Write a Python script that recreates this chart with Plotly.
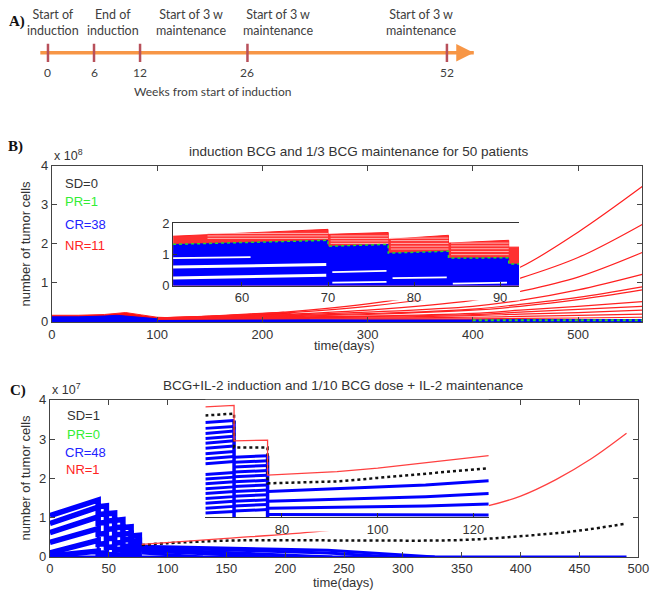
import plotly.graph_objects as go

# ---------- panel A : treatment schedule (weeks) ----------
schedule_weeks = [0, 6, 12, 26, 52]
schedule_events = ["Start of<br>induction", "End of<br>induction",
                   "Start of 3 w<br>maintenance", "Start of 3 w<br>maintenance",
                   "Start of 3 w<br>maintenance"]
timeline_span = [-1, 55.5]

# ---------- panel B : main axes (x 1e8 tumor cells) ----------
b_red_band_days = [0, 25, 50, 62, 70, 85, 100, 110, 150, 190, 220, 245]
b_red_band_top = [0.17, 0.17, 0.19, 0.22, 0.24, 0.18, 0.12, 0.11, 0.15, 0.21, 0.25, 0.1]
b_blue_days = [0, 25, 50, 62, 70, 85, 100, 110, 150, 200, 300, 400, 500, 561]
b_blue_top = [0.13, 0.13, 0.15, 0.17, 0.15, 0.11, 0.08, 0.07, 0.07, 0.07, 0.06, 0.06, 0.06, 0.06]
b_nr_days = [100, 200, 300, 400, 445, 500, 561]
b_nr_curves = [
    [0.10, 0.21, 0.46, 0.95, 1.40, 2.30, 3.47],
    [0.10, 0.20, 0.40, 0.78, 1.12, 1.65, 2.50],
    [0.10, 0.17, 0.30, 0.55, 0.78, 1.15, 1.78],
    [0.10, 0.15, 0.25, 0.40, 0.55, 0.82, 1.22],
    [0.10, 0.14, 0.21, 0.33, 0.45, 0.63, 0.90],
    [0.10, 0.13, 0.19, 0.30, 0.40, 0.57, 0.82],
    [0.09, 0.12, 0.15, 0.22, 0.30, 0.40, 0.52],
    [0.09, 0.11, 0.14, 0.19, 0.25, 0.32, 0.40],
    [0.08, 0.10, 0.12, 0.16, 0.20, 0.24, 0.30],
    [0.08, 0.09, 0.10, 0.12, 0.14, 0.17, 0.20],
    [0.07, 0.08, 0.08, 0.08, 0.09, 0.10, 0.12],
]
b_pr_days = [400, 561]
b_pr_values = [0.04, 0.04]

# ---------- panel B : inset (x 1e7 tumor cells) ----------
bi_days = [52, 70, 70, 77, 77, 84, 84, 91, 91, 92.2]
bi_red_top = [1.59, 1.81, 1.65, 1.71, 1.49, 1.62, 1.37, 1.46, 1.24, 1.24]
bi_blue_top = [1.33, 1.46, 1.27, 1.33, 1.05, 1.11, 0.89, 0.90, 0.70, 0.70]
bi_gap_start = [52, 52, 52, 70.5, 70.5, 77.5, 84.5]
bi_gap_end = [61, 69.8, 69.8, 76.8, 76.8, 83.8, 90.8]
bi_gap_from = [0.89, 0.60, 0.25, 0.44, 0.10, 0.25, 0.07]
bi_gap_to = [0.92, 0.68, 0.34, 0.48, 0.13, 0.27, 0.10]
# thin white partings between the red NR trajectories, one row per dosing interval
bi_stripe_days = [[56, 70], [70.3, 77], [77.3, 84], [84.3, 91]]
bi_stripe_levels = [
    [1.52, 1.60, 1.68],
    [1.36, 1.44, 1.52, 1.60],
    [1.18, 1.27, 1.36, 1.45, 1.53],
    [1.00, 1.10, 1.19, 1.28, 1.37],
]

# ---------- panel C : main axes (x 1e7 tumor cells) ----------
c_step_days = [0, 41, 41, 48, 48, 55, 55, 62, 62, 69, 69, 76, 76, 78]
c_bands = [
    [1.05, 1.45, 1.28, 1.30, 1.10, 1.12, 0.93, 0.95, 0.75, 0.77, 0.53, 0.55, 0.30, 0.30],
    [0.85, 1.27, 1.08, 1.10, 0.91, 0.93, 0.74, 0.76, 0.58, 0.60, 0.40, 0.42, 0.25, 0.25],
    [0.62, 1.02, 0.86, 0.88, 0.70, 0.72, 0.56, 0.58, 0.43, 0.45, 0.28, 0.30, 0.20, 0.20],
    [0.37, 0.72, 0.58, 0.60, 0.46, 0.48, 0.35, 0.37, 0.26, 0.28, 0.18, 0.20, 0.15, 0.15],
    [0.10, 0.42, 0.32, 0.34, 0.24, 0.26, 0.18, 0.20, 0.13, 0.15, 0.08, 0.10, 0.08, 0.08],
    [0.02, 0.15, 0.09, 0.10, 0.06, 0.07, 0.04, 0.05, 0.03, 0.03, 0.02, 0.02, 0.01, 0.01],
]
c_dose_days = [41, 48, 55, 62, 69, 76]
c_dose_peaks = [1.45, 1.30, 1.12, 0.95, 0.77, 0.55]
c_nr_early = [1.08, 1.48, 1.31, 1.33, 1.13, 1.15, 0.96, 0.98, 0.78, 0.80, 0.56, 0.58, 0.33, 0.32]
c_nr_days = [78, 150, 229, 300, 372, 400, 430, 460, 490]
c_nr_values = [0.32, 0.47, 0.65, 0.90, 1.30, 1.55, 1.97, 2.50, 3.15]
c_sd_days = [78, 100, 160, 250, 350, 410, 450, 490]
c_sd_values = [0.30, 0.35, 0.42, 0.42, 0.43, 0.55, 0.67, 0.85]
c_cr_tail_days = [
    [78, 236, 327],
    [78, 236, 293],
    [78, 200, 240],
    [78, 160, 190],
    [78, 130],
    [0, 490],
]
c_cr_tail_values = [
    [0.27, 0.17, 0.0],
    [0.24, 0.10, 0.0],
    [0.20, 0.05, 0.0],
    [0.15, 0.03, 0.0],
    [0.10, 0.0],
    [0.0, 0.0],
]

# ---------- panel C : inset ----------
ci_days = [64, 70, 70, 77, 77, 91.5, 100, 110, 123.2]
ci_red = [2.82, 2.86, 1.95, 1.97, 1.07, 1.16, 1.25, 1.38, 1.57]
ci_sd = [2.60, 2.65, 1.78, 1.78, 0.86, 0.91, 1.00, 1.10, 1.25]
ci_seg1_from = [2.42, 2.27, 2.14, 2.01, 1.89, 1.76, 1.62, 1.49, 1.36,
                1.09, 0.97, 0.85, 0.72, 0.60, 0.47, 0.35, 0.22, 0.10]
ci_seg1_to = [2.47, 2.32, 2.20, 2.07, 1.95, 1.82, 1.68, 1.55, 1.42,
              1.14, 1.02, 0.90, 0.77, 0.65, 0.52, 0.40, 0.27, 0.14]
ci_seg2_from = [1.53, 1.40, 1.28, 1.15, 1.03, 0.90, 0.78, 0.65, 0.53, 0.40, 0.28, 0.15]
ci_seg2_to = [1.57, 1.44, 1.32, 1.19, 1.07, 0.94, 0.82, 0.69, 0.57, 0.44, 0.32, 0.19]
ci_seg3_days = [77, 91.5, 110, 123.2]
ci_seg3_lines = [
    [0.65, 0.72, 0.82, 0.93],
    [0.40, 0.45, 0.52, 0.60],
    [0.22, 0.24, 0.28, 0.33],
    [0.06, 0.06, 0.05, 0.05],
]
ci_dose_days = [70, 77]
ci_dose_peaks = [2.47, 1.57]

W, H = 662, 599
BLUE, RED, GREEN = "#0000ff", "#ff2020", "#22dd22"
AX_FONT = dict(family="Liberation Sans, Arial", size=13, color="#333333")
A_FONT = "Lato, Roboto, sans-serif"

# panel A axes: 7.85 px per week, week 0 at x=45 px; 12 px per unit, arrow at y=47 px
A_X0, A_XS, A_Y0, A_YS = 45, 7.85, 47, 12


def px(x):
    return x / W


def py(y):
    return 1 - y / H


def wk(xpix):
    return (xpix - A_X0) / A_XS


def ay_(ypix):
    return (A_Y0 - ypix) / A_YS


fig = go.Figure()


def add(trace, n):
    ax = "" if n == 1 else str(n)
    trace.update(xaxis="x" + ax, yaxis="y" + ax, showlegend=False, hoverinfo="skip")
    fig.add_trace(trace)


# ---- A ----
add(go.Scatter(x=timeline_span, y=[0, 0], mode="lines",
               line=dict(color="#f79646", width=3.5)), 1)
add(go.Scatter(x=schedule_weeks, y=[0] * len(schedule_weeks), mode="markers",
               marker=dict(symbol="line-ns", size=13, line=dict(color="#b8505a", width=2.5))), 1)

# ---- B main ----
add(go.Scatter(x=b_red_band_days, y=[v * 1e8 for v in b_red_band_top], mode="lines",
               fill="tozeroy", fillcolor="#ff1010", line=dict(color=RED, width=1)), 2)
add(go.Scatter(x=b_blue_days, y=[v * 1e8 for v in b_blue_top], mode="lines",
               fill="tozeroy", fillcolor=BLUE, line=dict(color=BLUE, width=1)), 2)
for curve in b_nr_curves:
    add(go.Scatter(x=b_nr_days, y=[v * 1e8 for v in curve], mode="lines",
                   line=dict(color=RED, width=1.2, shape="spline")), 2)
add(go.Scatter(x=b_pr_days, y=[v * 1e8 for v in b_pr_values], mode="lines",
               line=dict(color=GREEN, width=2, dash="dot")), 2)
# cover behind the inset
add(go.Scatter(x=[None], y=[None]), 3)

# ---- B inset ----
add(go.Scatter(x=bi_days, y=bi_red_top, mode="lines", fill="tozeroy",
               fillcolor="#ff3030", line=dict(color=RED, width=1)), 4)
stx, sty = [], []
for span, levels in zip(bi_stripe_days, bi_stripe_levels):
    for lv in levels:
        stx += [span[0], span[1], None]
        sty += [lv, lv, None]
add(go.Scatter(x=stx, y=sty, mode="lines", line=dict(color="#ffd0d0", width=0.8)), 4)
add(go.Scatter(x=bi_days, y=bi_blue_top, mode="lines", fill="tozeroy",
               fillcolor=BLUE, line=dict(color=BLUE, width=0.5)), 4)
add(go.Scatter(x=bi_days, y=bi_blue_top, mode="lines",
               line=dict(color=GREEN, width=1.5, dash="dot")), 4)
for i in range(len(bi_gap_start)):
    add(go.Scatter(x=[bi_gap_start[i], bi_gap_end[i]], y=[bi_gap_from[i], bi_gap_to[i]],
                   mode="lines", line=dict(color="white", width=3 if i in (1, 2) else 1.8)), 4)

# ---- C main ----
add(go.Scatter(x=c_step_days, y=[v * 1e7 for v in c_nr_early], mode="lines",
               line=dict(color=RED, width=1.5)), 5)
for band in c_bands:
    add(go.Scatter(x=c_step_days, y=[v * 1e7 for v in band], mode="lines",
                   line=dict(color=BLUE, width=5.5)), 5)
dx, dy = [], []
for d, p in zip(c_dose_days, c_dose_peaks):
    dx += [d, d, None]
    dy += [0, p * 1e7, None]
add(go.Scatter(x=dx, y=dy, mode="lines", line=dict(color=BLUE, width=3)), 5)
for days, vals in zip(c_cr_tail_days, c_cr_tail_values):
    add(go.Scatter(x=days, y=[v * 1e7 for v in vals], mode="lines",
                   line=dict(color=BLUE, width=3)), 5)
add(go.Scatter(x=c_sd_days, y=[v * 1e7 for v in c_sd_values], mode="lines",
               line=dict(color="#111111", width=2.5, dash="dot", shape="spline")), 5)
add(go.Scatter(x=c_nr_days, y=[v * 1e7 for v in c_nr_values], mode="lines",
               line=dict(color="#ff4040", width=1.3, shape="spline")), 5)
add(go.Scatter(x=[None], y=[None]), 6)

# ---- C inset ----
sx, sy = [], []
for a, b in zip(ci_seg1_from, ci_seg1_to):
    sx += [64, 70, None]
    sy += [a, b, None]
for a, b in zip(ci_seg2_from, ci_seg2_to):
    sx += [70, 77, None]
    sy += [a, b, None]
add(go.Scatter(x=sx, y=sy, mode="lines", line=dict(color=BLUE, width=3)), 7)
for line in ci_seg3_lines:
    add(go.Scatter(x=ci_seg3_days, y=line, mode="lines", line=dict(color=BLUE, width=3)), 7)
vx, vy = [], []
for d, p in zip(ci_dose_days, ci_dose_peaks):
    vx += [d, d, None]
    vy += [0, p, None]
add(go.Scatter(x=vx, y=vy, mode="lines", line=dict(color=BLUE, width=3.5)), 7)
add(go.Scatter(x=ci_days, y=ci_sd, mode="lines",
               line=dict(color="#111111", width=2.5, dash="dot")), 7)
add(go.Scatter(x=ci_days, y=ci_red, mode="lines", line=dict(color="#ff4040", width=1.3)), 7)


# ---- axes ----
def main_axes(xd, yd, xr, yr, xticks, yticks):
    common = dict(showline=True, linecolor="#444444", linewidth=1, mirror="ticks",
                  ticks="inside", ticklen=5, tickcolor="#444444", showgrid=False,
                  zeroline=False, tickfont=AX_FONT)
    x = dict(common, domain=xd, range=xr, tickvals=xticks)
    y = dict(common, domain=yd, range=yr, tickvals=[t * (yr[1] / 4) for t in yticks],
             ticktext=[str(t) for t in yticks])
    return x, y


hidden = dict(visible=False, showgrid=False, zeroline=False)
xb, yb = main_axes([px(49), px(653)], [py(323), py(163)], [0, 561], [0, 4e8],
                   [0, 100, 200, 300, 400, 500], [0, 1, 2, 3, 4])
xc, yc = main_axes([px(47), px(649)], [py(564), py(403)], [0, 500], [0, 4e7],
                   [0, 50, 100, 150, 200, 250, 300, 350, 400, 450, 500], [0, 1, 2, 3, 4])

inset_common = dict(showline=True, linecolor="#333333", linewidth=1, ticks="inside",
                    ticklen=4, tickcolor="#333333", showgrid=False, zeroline=False,
                    tickfont=AX_FONT)

fig.update_layout(
    width=W, height=H, margin=dict(l=0, r=0, t=0, b=0),
    paper_bgcolor="white", plot_bgcolor="white",
    xaxis=dict(hidden, domain=[0, 1], range=[wk(0), wk(W)]),
    yaxis=dict(hidden, domain=[py(100), 1], range=[ay_(100), ay_(0)]),
    xaxis2=dict(xb, anchor="y2"), yaxis2=dict(yb, anchor="x2"),
    xaxis3=dict(hidden, domain=[px(173), px(528)], anchor="y3"),
    yaxis3=dict(hidden, domain=[py(301), py(222)], anchor="x3"),
    xaxis4=dict(inset_common, domain=[px(173), px(527)], range=[52, 92.2], anchor="y4",
                mirror=True, tickvals=[60, 70, 80, 90]),
    yaxis4=dict(inset_common, domain=[py(286), py(222)], range=[0, 2], anchor="x4",
                tickvals=[0, 1, 2]),
    xaxis5=dict(xc, anchor="y5"), yaxis5=dict(yc, anchor="x5"),
    xaxis6=dict(hidden, domain=[px(206), px(496)], anchor="y6"),
    yaxis6=dict(hidden, domain=[py(538), py(403)], anchor="x6"),
    xaxis7=dict(inset_common, domain=[px(206), px(496)], range=[64, 123.2], anchor="y7",
                tickvals=[80, 100, 120]),
    yaxis7=dict(hidden, domain=[py(523), py(403)], range=[0, 3], anchor="x7"),
)

ann = []


def text(x, y, s, size=13, color="#333333", family="Liberation Sans, Arial", xanchor="center",
         angle=0, bold=False, align="center"):
    ann.append(dict(x=px(x), y=py(y), xref="paper", yref="paper", text=f"<b>{s}</b>" if bold else s,
                    showarrow=False, xanchor=xanchor, yanchor="middle", textangle=angle,
                    align=align, font=dict(size=size, color=color, family=family)))


def a_text(xval, ypix, s, size=12.5, family=A_FONT, color="#404040", bold=False):
    ann.append(dict(x=xval, y=ay_(ypix), xref="x", yref="y", showarrow=False,
                    text=f"<b>{s}</b>" if bold else s, xanchor="center", yanchor="middle",
                    font=dict(size=size, family=family, color=color)))


# panel A labels (in the timeline's own axes)
label_centre_px = [50, 112, 191, 280, 427]
for ev, cx in zip(schedule_events, label_centre_px):
    a_text(wk(cx), 16, ev)
for w in schedule_weeks:
    a_text(w, 67, str(w), size=12)
a_text(wk(213), 87, "Weeks from start of induction", size=12)
a_text(wk(13), 15, "A)", size=15, family="Liberation Serif", color="#111111", bold=True)
ann.append(dict(x=timeline_span[1], y=0, ax=timeline_span[1] - 2, ay=0, xref="x", yref="y",
                axref="x", ayref="y", text="", showarrow=True, arrowhead=2, arrowsize=1,
                arrowwidth=3.5, arrowcolor="#f79646"))
text(12, 143, "B)", size=15, family="Liberation Serif", color="#111111", bold=True)
text(14, 393, "C)", size=15, family="Liberation Serif", color="#111111", bold=True)

# panel B text
text(363, 148, "induction BCG and 1/3 BCG maintenance for 50 patients", size=13.5)
text(49, 152, "x 10<sup>8</sup>", size=12.5, xanchor="left")
text(22, 243, "number of tumor cells", size=13, angle=-90)
text(348, 347, "time(days)", size=13)
text(60, 181, "SD=0", color="#333333", xanchor="left")
text(60, 200, "PR=1", color="#33ee33", xanchor="left")
text(60, 223, "CR=38", color="#2222ff", xanchor="left")
text(60, 245, "NR=11", color="#ff2222", xanchor="left")

# panel C text
text(347, 388, "BCG+IL-2 induction and 1/10 BCG dose + IL-2 maintenance", size=13.5)
text(47, 392, "x 10<sup>7</sup>", size=12.5, xanchor="left")
text(22, 483, "number of tumor cells", size=13, angle=-90)
text(347, 590, "time(days)", size=13)
text(62, 419, "SD=1", color="#333333", xanchor="left")
text(62, 438, "PR=0", color="#33ee33", xanchor="left")
text(60, 457, "CR=48", color="#2222ff", xanchor="left")
text(61, 474, "NR=1", color="#ff2222", xanchor="left")

fig.update_layout(annotations=ann)
fig.write_html("out.html", config={"displayModeBar": False},
               post_script="document.body.style.margin='0';document.body.style.overflow='hidden';")
